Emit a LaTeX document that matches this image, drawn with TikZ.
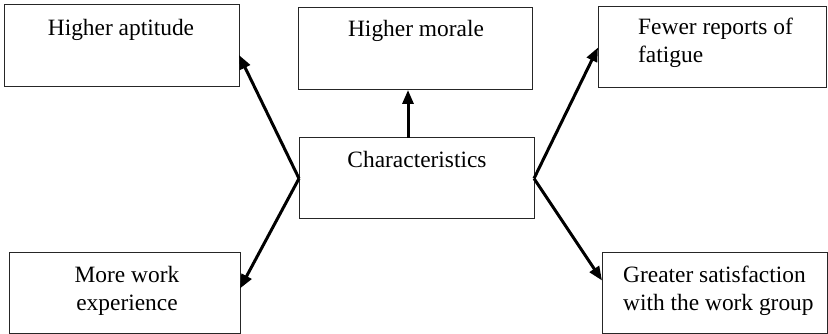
\documentclass[tikz,border=0pt]{standalone}
\usepackage{fontspec}
\setmainfont{Liberation Serif}
\usetikzlibrary{arrows.meta,calc}
\begin{document}
\begin{tikzpicture}[x=1pt,y=-1pt,
  box/.style={draw=black!85,line width=1pt,inner sep=0pt,outer sep=0pt},
  lbl/.style={inner sep=0pt,font=\fontsize{23.4}{27.5}\selectfont},
  link/.style={line width=3pt,-{Triangle[length=14pt,width=11pt]}}]
\useasboundingbox (0,0) rectangle (828,334);
% boxes
\node[box,minimum width=235pt,minimum height=82pt] (apt) at (121.5,46) {};
\node[box,minimum width=234pt,minimum height=82pt] (mor) at (415,49) {};
\node[box,minimum width=228pt,minimum height=81pt] (fat) at (712,47.5) {};
\node[box,minimum width=235pt,minimum height=81pt] (chr) at (416.5,178.5) {};
\node[box,minimum width=231pt,minimum height=81pt] (exp) at (124.5,292.5) {};
\node[box,minimum width=225pt,minimum height=81pt] (sat) at (714.5,292.5) {};
% texts (multi-line labels are anchored on their last baseline)
\node[lbl,anchor=base] (aptT) at (121,36) {Higher aptitude};
\node[lbl,anchor=base] (morT) at (416,37) {Higher morale};
\node[lbl,anchor=base west,align=left] (fatT) at (638,62.5) {Fewer reports of\\fatigue};
\node[lbl,anchor=base] (chrT) at (417,168) {Characteristics};
\node[lbl,anchor=base,align=center] (expT) at (127,310) {More work\\experience};
\node[lbl,anchor=base west,align=left] (satT) at (623,310) {Greater satisfaction\\with the work group};
% connectors
\draw[link] (chr.west) -- ($(apt.south east)!0.39!(apt.north east)$);
\draw[link] (chr.west) -- ([yshift=4pt]exp.east);
\draw[link] ([xshift=-8.5pt]chr.north) -- ([xshift=-7pt]mor.south);
\draw[link] (chr.east) -- (fat.west);
\draw[link] (chr.east) -- ([yshift=12pt]sat.west);
\end{tikzpicture}
\end{document}
